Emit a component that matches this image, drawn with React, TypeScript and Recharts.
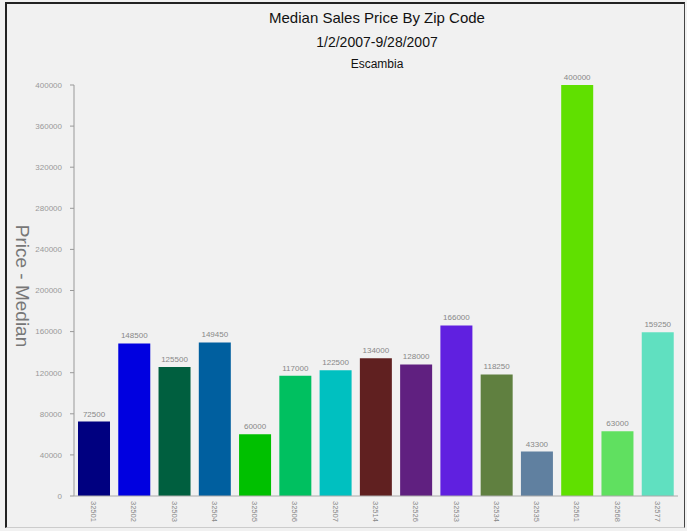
import { BarChart, Bar, XAxis, YAxis, Cell, LabelList } from "recharts";

const zipCodes = [
  "32501", "32502", "32503", "32504", "32505", "32506", "32507", "32514",
  "32526", "32533", "32534", "32535", "32561", "32568", "32577",
];
const medianPrices = [
  72500, 148500, 125500, 149450, 60000, 117000, 122500, 134000,
  128000, 166000, 118250, 43300, 400000, 63000, 159250,
];
const barColors = [
  "#000080", "#0000e0", "#005f3f", "#005f9f", "#00c000", "#00c060", "#00c0c0", "#602020",
  "#602080", "#6020e0", "#608040", "#6080a0", "#60e000", "#60e060", "#60e0c0",
];
const yTicks = [0, 40000, 80000, 120000, 160000, 200000, 240000, 280000, 320000, 360000, 400000];

const chartData = zipCodes.map((zip, i) => ({ zip, price: medianPrices[i] }));

const font = "'Liberation Sans', Arial, sans-serif";

function ZipTick(props: any) {
  const { x, y, payload } = props;
  return (
    <text
      x={0}
      y={0}
      transform={`translate(${x - 3},${y - 3}) rotate(90)`}
      textAnchor="start"
      fontSize={7.5}
      fill="#888"
      fontFamily={font}
    >
      {payload.value}
    </text>
  );
}

export default function App() {
  return (
    <div
      style={{
        position: "absolute",
        left: 0,
        top: 0,
        width: 687,
        height: 531,
        background: "#f1f1f1",
        fontFamily: font,
        overflow: "hidden",
      }}
    >
      {/* frame of the original screenshot */}
      <div
        style={{
          position: "absolute",
          left: 5,
          top: 2,
          width: 680,
          height: 526,
          boxSizing: "border-box",
          borderLeft: "2px solid #222",
          borderTop: "2px solid #222",
          borderRight: "1px solid #444",
          borderBottom: "1px solid #ccc",
        }}
      />
      <div style={{ position: "absolute", left: 0, top: 2 }}>
        <BarChart
          width={687}
          height={527}
          data={chartData}
          margin={{ top: 83, right: 9, left: 0, bottom: 0 }}
          barCategoryGap={4}
        >
          <YAxis
            width={74}
            domain={[0, 400000]}
            ticks={yTicks}
            interval={0}
            tickSize={4}
            tickMargin={8}
            stroke="#999"
            tick={{ fontSize: 8, fill: "#999", fontFamily: font }}
          />
          <XAxis
            dataKey="zip"
            height={33}
            interval={0}
            tickLine={false}
            stroke="#aaa"
            tick={<ZipTick />}
          />
          <Bar dataKey="price" isAnimationActive={false}>
            {chartData.map((d, i) => (
              <Cell key={d.zip} fill={barColors[i]} />
            ))}
            <LabelList
              dataKey="price"
              position="top"
              offset={5}
              fontSize={8}
              fill="#888"
              fontFamily={font}
            />
          </Bar>
        </BarChart>
      </div>
      <div style={{ position: "absolute", left: 180, width: 394, top: 9, textAlign: "center", fontSize: 15, color: "#111" }}>
        Median Sales Price By Zip Code
      </div>
      <div style={{ position: "absolute", left: 180, width: 394, top: 34, textAlign: "center", fontSize: 14, color: "#111" }}>
        1/2/2007-9/28/2007
      </div>
      <div style={{ position: "absolute", left: 180, width: 394, top: 57, textAlign: "center", fontSize: 12, color: "#111" }}>
        Escambia
      </div>
      <div
        style={{
          position: "absolute",
          left: 22,
          top: 286,
          transform: "translate(-50%, -50%) rotate(90deg)",
          fontSize: 19,
          color: "#777",
          whiteSpace: "nowrap",
        }}
      >
        Price - Median
      </div>
    </div>
  );
}
